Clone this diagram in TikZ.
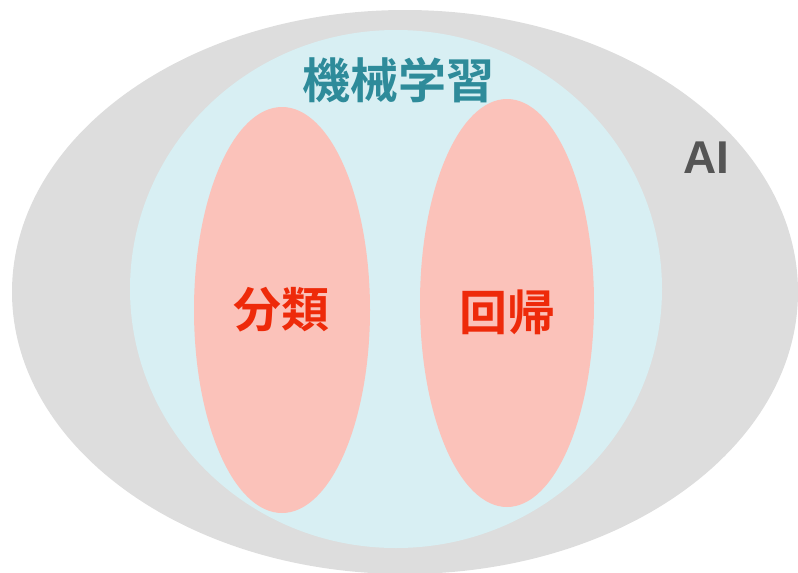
\documentclass[tikz,border=0pt]{standalone}
\usepackage{fontspec}
\setmainfont{Liberation Sans}
\newfontfamily\cjk{Noto Sans CJK JP}[BoldFont={* Bold}]
\definecolor{aigray}{HTML}{DDDDDD}
\definecolor{mlblue}{HTML}{D8EFF3}
\definecolor{pinkfill}{HTML}{FBC2BA}
\definecolor{tealtext}{HTML}{2E8B9A}
\definecolor{redtext}{HTML}{EE2A0A}
\definecolor{darktext}{HTML}{555555}
\begin{document}
\begin{tikzpicture}[x=1pt,y=-1pt,
  cjklabel/.style={font=\cjk\bfseries\fontsize{48}{54}\selectfont, inner sep=0pt},
  latinlabel/.style={font=\bfseries\fontsize{46}{50}\selectfont, inner sep=0pt}]
\useasboundingbox (0,0) rectangle (798,573);
\begin{scope}
\clip (0,0) rectangle (798,573);
\fill[aigray] (405,292) ellipse [x radius=393, y radius=282];
\end{scope}
\fill[mlblue] (396,289) ellipse [x radius=266, y radius=259];
\fill[pinkfill] (282,310) ellipse [x radius=88, y radius=203];
\fill[pinkfill] (507,303) ellipse [x radius=87, y radius=204];
\node[cjklabel, text=tealtext] (ml) at (398,80) {機械学習};
\node[latinlabel, text=darktext] (ai) at (706,158) {AI};
\node[cjklabel, text=redtext] (cls) at (281,310) {分類};
\node[cjklabel, text=redtext] (reg) at (507,312) {回帰};
\end{tikzpicture}
\end{document}
